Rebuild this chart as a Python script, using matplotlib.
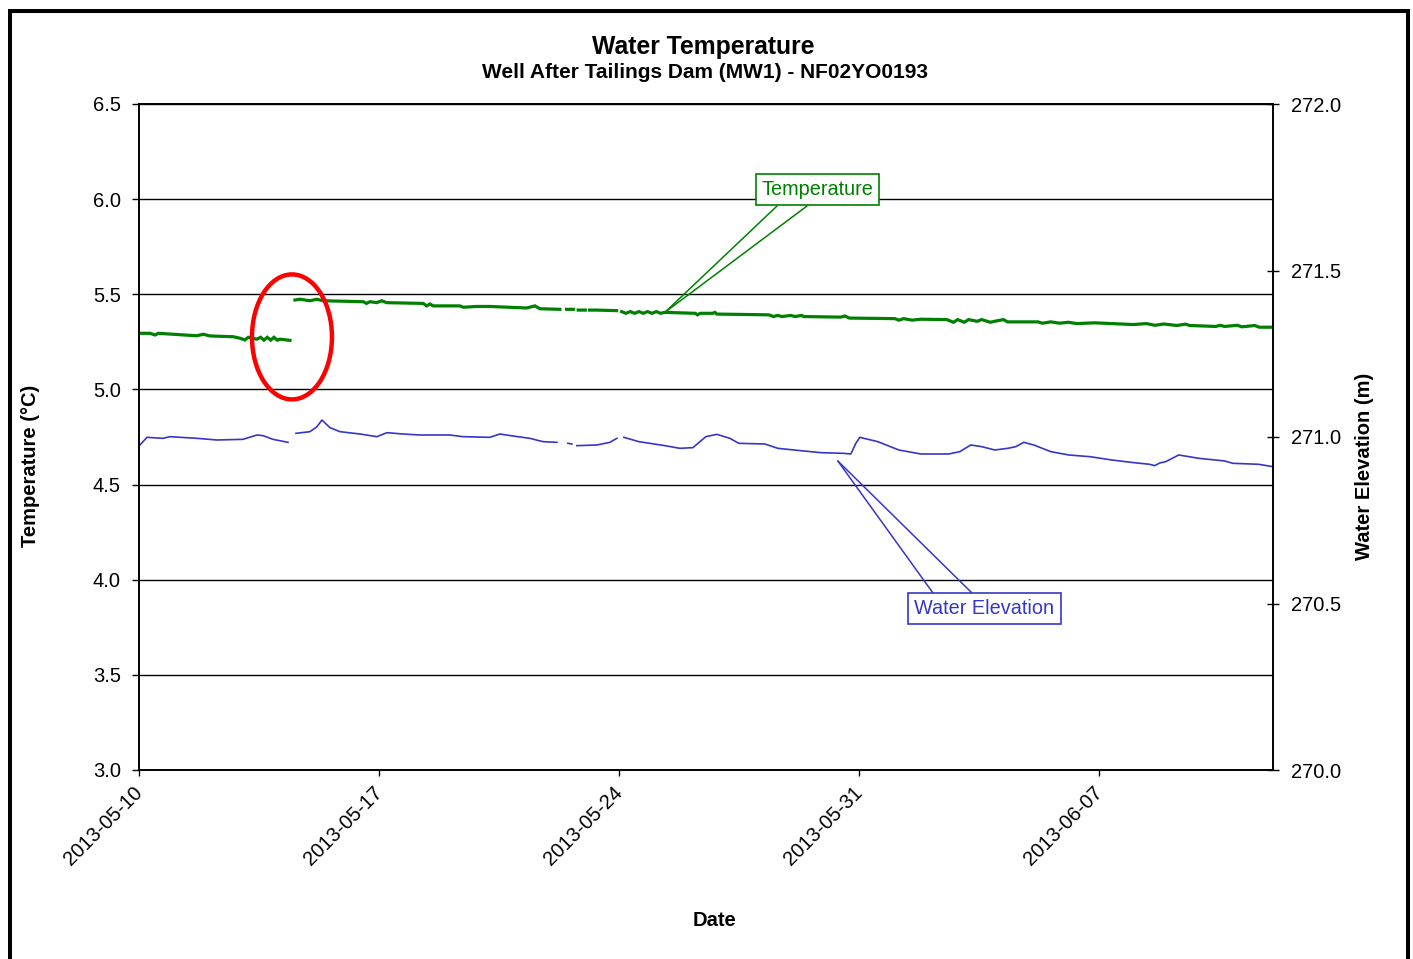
import numpy as np
import pandas as pd
import matplotlib
matplotlib.use("Agg")
import matplotlib.pyplot as plt
import matplotlib.dates as mdates
from matplotlib.patches import Ellipse, Rectangle
from matplotlib.transforms import ScaledTranslation

plt.rcParams['font.family'] = ['Liberation Sans', 'DejaVu Sans']

START = pd.Timestamp("2013-05-10 00:00")
END = pd.Timestamp("2013-06-12 02:00")
nan = np.nan

# logger readings, hours since START (nan value = gap in the record)
temp_hours = [0, 7.7, 11.2, 13.5, 21.7, 40.4, 45.0, 49.7, 66.0, 70.7, 74.2, 76.5,
              82.4, 85.2, 87.5, 89.8, 92.2, 94.5, 96.8, 98.7, 105.7, 107.5,
              109.2, 112.7, 119.7, 124.4, 129.0, 157.0, 159.3, 161.7, 166.4, 169.9,
              173.4, 199.0, 201.4, 203.7, 206.0, 224.7, 227.0, 236.4, 245.7, 271.4,
              277.2, 280.7, 294.7, 297.0, 299.4, 304.1, 305.8, 307.5, 312.5, 314.0,
              315.5, 320.4, 334.4, 336.0, 337.9, 340.9, 344.0, 347.0, 350.0, 353.1,
              356.1, 359.1, 362.2, 365.2, 368.2, 389.5, 391.0, 393.0, 401.7, 403.2,
              404.6, 441.0, 444.2, 447.2, 450.2, 456.3, 459.4, 463.9, 465.4, 491.3,
              494.3, 497.3, 529.2, 532.2, 535.3, 541.4, 547.4, 565.7, 570.2, 573.3,
              577.8, 580.9, 586.9, 590.0, 596.1, 599.1, 605.2, 608.2, 629.5, 632.5,
              638.5, 644.6, 650.7, 656.7, 668.9, 696.2, 705.3, 711.4, 717.5, 726.6,
              732.7, 735.7, 753.9, 757.0, 760.1, 769.1, 772.2, 781.3, 784.4, 793.8]
temp_values = [5.295, 5.295, 5.286, 5.295, 5.291, 5.282, 5.290, 5.281, 5.277, 5.269, 5.260, 5.274,
               5.264, 5.274, 5.259, 5.274, 5.259, 5.274, 5.259, 5.264, 5.258, nan,
               5.470, 5.474, 5.466, 5.474, 5.466, 5.461, 5.452, 5.461, 5.456, 5.466,
               5.456, 5.452, 5.439, 5.449, 5.439, 5.439, 5.432, 5.436, 5.436, 5.428,
               5.439, 5.424, 5.421, nan, 5.421, 5.421, nan, 5.417, 5.417, nan,
               5.417, 5.417, 5.414, nan, 5.409, 5.400, 5.409, 5.400, 5.409, 5.400,
               5.409, 5.400, 5.409, 5.400, 5.405, 5.400, 5.392, 5.400, 5.400, 5.405,
               5.396, 5.392, 5.383, 5.389, 5.383, 5.389, 5.383, 5.389, 5.383, 5.380,
               5.386, 5.375, 5.372, 5.364, 5.372, 5.364, 5.369, 5.367, 5.353, 5.367,
               5.353, 5.367, 5.358, 5.367, 5.353, 5.358, 5.367, 5.355, 5.355, 5.348,
               5.355, 5.348, 5.353, 5.346, 5.350, 5.341, 5.346, 5.337, 5.344, 5.336,
               5.343, 5.336, 5.331, 5.337, 5.331, 5.337, 5.329, 5.336, 5.327, 5.327]

elev_hours = [0, 5.6, 16.8, 21.7, 40.6, 54.6, 72.8, 82.6, 86.8, 93.8, 104.3, 107.0,
              109.9, 119.7, 124.6, 128.1, 133.7, 140.7, 154.7, 166.6, 173.6, 184.8,
              196.7, 217.7, 226.8, 245.7, 252.7, 261.8, 273.7, 282.8, 292.6, 296.5,
              300.3, 303.1, 305.0, 306.6, 320.6, 329.7, 334.6, 337.0, 339.5, 350.0,
              368.2, 378.7, 387.8, 396.9, 404.6, 413.7, 420.0, 438.2, 447.3, 465.5,
              477.4, 492.8, 498.4, 501.9, 504.7, 517.3, 532.0, 547.4, 567.0, 574.7,
              582.4, 590.1, 599.2, 608.3, 613.9, 619.5, 626.5, 638.4, 651.0, 665.7,
              681.1, 696.5, 707.7, 711.2, 714.7, 718.9, 728.0, 742.0, 760.2, 765.8,
              784.0, 793.8]
elev_values = [270.973, 270.999, 270.996, 271.001, 270.996, 270.991, 270.993, 271.006, 271.004, 270.993, 270.984, nan,
               271.011, 271.016, 271.031, 271.051, 271.028, 271.016, 271.009, 271.001, 271.013, 271.009,
               271.006, 271.006, 271.001, 270.999, 271.009, 271.003, 270.996, 270.986, 270.984, nan,
               270.981, 270.979, nan, 270.974, 270.976, 270.984, 270.996, nan, 270.999, 270.986,
               270.974, 270.966, 270.968, 271.001, 271.008, 270.996, 270.981, 270.979, 270.966, 270.958,
               270.953, 270.951, 270.949, 270.981, 270.999, 270.986, 270.961, 270.949, 270.949, 270.956,
               270.976, 270.971, 270.961, 270.966, 270.971, 270.984, 270.976, 270.956, 270.946, 270.941,
               270.931, 270.923, 270.918, 270.914, 270.922, 270.926, 270.946, 270.936, 270.928, 270.921,
               270.918, 270.911]

tick_dates = ["2013-05-10", "2013-05-17", "2013-05-24", "2013-05-31", "2013-06-07"]
temp_ticks = [3.0, 3.5, 4.0, 4.5, 5.0, 5.5, 6.0, 6.5]
elev_ticks = [270.0, 270.5, 271.0, 271.5, 272.0]

# callout anchors (hours since START, value) and the circled gap
temp_callout = (368.2, 5.405)
elev_callout = (489.3, 270.928)
gap_circle = (107.1, 5.276)

GREEN = '#008000'
BLUE = '#3636C8'
W, H = 1413, 959


def to_time(hours):
    return (START + pd.to_timedelta(np.asarray(hours, dtype=float), unit='h')).to_pydatetime()


fig = plt.figure(figsize=(W / 100, H / 100), dpi=100)
ax = fig.add_axes([139 / W, 1 - 770 / H, (1273 - 139) / W, (770 - 104) / H])
ax2 = ax.twinx()

ax.plot(to_time(temp_hours), temp_values, color=GREEN, lw=2.3, solid_joinstyle='miter')
ax2.plot(to_time(elev_hours), elev_values, color=BLUE, lw=1.2)

ax.set_xlim(START.to_pydatetime(), END.to_pydatetime())
ax.set_ylim(3.0, 6.5)
ax2.set_ylim(270.0, 272.0)

ax.set_yticks(temp_ticks)
ax.set_yticklabels([f"{v:.1f}" for v in temp_ticks])
ax2.set_yticks(elev_ticks)
ax2.set_yticklabels([f"{v:.1f}" for v in elev_ticks])

ax.yaxis.grid(True, color='black', lw=1.0)
ax.xaxis.grid(False)
for a in (ax, ax2):
    for s in a.spines.values():
        s.set_linewidth(1.2)
        s.set_color('black')

ax.tick_params(axis='y', direction='out', length=5, width=1, labelsize=14.5, pad=8)
ax.tick_params(axis='x', direction='out', length=4, width=1, labelsize=14.5, pad=4)
ax2.tick_params(axis='y', direction='inout', length=8, width=1, labelsize=14.5, pad=9)

ax.set_xticks(pd.to_datetime(tick_dates).to_pydatetime())
ax.set_xticklabels(tick_dates, rotation=45, ha='right', va='top', rotation_mode='anchor')
shift = ScaledTranslation(-0.06, -0.02, fig.dpi_scale_trans)
for lbl in ax.get_xticklabels():
    lbl.set_transform(lbl.get_transform() + shift)

# red ring around the logger gap
gx = mdates.date2num(to_time([gap_circle[0]])[0])
ax.add_patch(Ellipse((gx, gap_circle[1]), width=80 / 34.286, height=125 / 190.29,
                     fill=False, ec='red', lw=3.2, zorder=5))

# callouts
tx = to_time([temp_callout[0]])[0]
for bx in (777, 807):
    ax.annotate('', xy=(tx, temp_callout[1]), xytext=(bx, H - 206), textcoords='figure pixels',
                arrowprops=dict(arrowstyle='-', color=GREEN, lw=1.1, shrinkA=0, shrinkB=0))
ax.annotate('Temperature', xy=(817.5, H - 189.7), xycoords='figure pixels',
            ha='center', va='center', color=GREEN, fontsize=14.3, zorder=6,
            bbox=dict(boxstyle='square,pad=0.3', fc='white', ec=GREEN, lw=1.2))

ex = to_time([elev_callout[0]])[0]
for bx in (933, 972):
    ax2.annotate('', xy=(ex, elev_callout[1]), xytext=(bx, H - 593), textcoords='figure pixels',
                 arrowprops=dict(arrowstyle='-', color=BLUE, lw=1.1, shrinkA=0, shrinkB=0))
ax2.annotate('Water Elevation', xy=(984.5, H - 608.5), xycoords='figure pixels',
             ha='center', va='center', color=BLUE, fontsize=14.3, zorder=6,
             bbox=dict(boxstyle='square,pad=0.3', fc='white', ec=BLUE, lw=1.2))

# titles and axis labels
fig.text(703.5 / W, 1 - 47 / H, 'Water Temperature', ha='center', va='center',
         fontsize=17.8, weight='bold')
fig.text(705 / W, 1 - 72 / H, 'Well After Tailings Dam (MW1) - NF02YO0193', ha='center',
         va='center', fontsize=15, weight='bold')
fig.text(31 / W, 1 - 465.5 / H, 'Temperature (°C)', rotation=90, ha='center', va='center',
         fontsize=14.5, weight='bold')
fig.text(1365 / W, 1 - 466 / H, 'Water Elevation (m)', rotation=90, ha='center', va='center',
         fontsize=14.5, weight='bold')
fig.text(715 / W, 1 - 920 / H, 'Date', ha='center', va='center', fontsize=14.5, weight='bold')

# outer chart frame (bottom edge lies below the crop)
fig.add_artist(Rectangle((9.5 / W, -0.05), (1407.5 - 9.5) / W, 1.05 - 11.5 / H,
                         transform=fig.transFigure, fill=False, ec='black', lw=2.9,
                         clip_on=False))

fig.savefig('out.png', dpi=100)
